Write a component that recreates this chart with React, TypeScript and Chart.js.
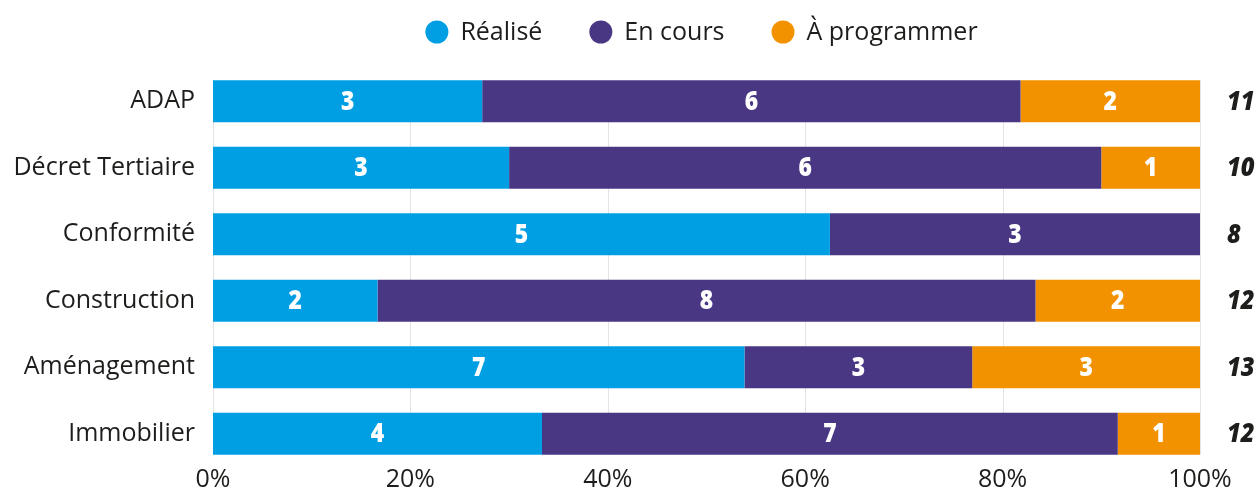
import React, { useEffect, useRef } from "react";
import { Chart, registerables } from "chart.js";

Chart.register(...registerables);

const categories = ["ADAP", "Décret Tertiaire", "Conformité", "Construction", "Aménagement", "Immobilier"];
const realise = [3, 3, 5, 2, 7, 4];
const enCours = [6, 6, 3, 8, 3, 7];
const aProgrammer = [2, 1, 0, 2, 3, 1];
const seriesNames = ["Réalisé", "En cours", "À programmer"];
const seriesColors = ["#009FE3", "#4A3784", "#F39200"];
const xTickValues = [0, 20, 40, 60, 80, 100];

const TEXT = "#1d1d1b";
const FONT = '"Open Sans", sans-serif';
const LABEL_FONT = '"Open Sans", sans-serif';

const totals = categories.map((_, i) => realise[i] + enCours[i] + aProgrammer[i]);
const pct = (arr: number[]) => arr.map((v, i) => (v / totals[i]) * 100);

const gridPlugin = {
  id: "customGrid",
  beforeDatasetsDraw(chart: any) {
    const { ctx, scales } = chart;
    const meta0 = chart.getDatasetMeta(0);
    const first = meta0.data[0];
    const last = meta0.data[meta0.data.length - 1];
    const top = first.y - first.height / 2;
    const bottom = last.y + last.height / 2;
    ctx.save();
    ctx.strokeStyle = "#e3e3e3";
    ctx.lineWidth = 1;
    xTickValues.forEach((v) => {
      const x = Math.round(scales.x.getPixelForValue(v)) + 0.5;
      ctx.beginPath();
      ctx.moveTo(x, top);
      ctx.lineTo(x, bottom);
      ctx.stroke();
    });
    ctx.restore();
  },
};

function condensedText(ctx: any, text: string, x: number, y: number, sx: number) {
  ctx.save();
  ctx.translate(x, y);
  ctx.scale(sx, 1);
  ctx.fillText(text, 0, 0);
  ctx.restore();
}

const labelsPlugin = {
  id: "valueLabels",
  afterDatasetsDraw(chart: any) {
    const { ctx, chartArea } = chart;
    ctx.save();
    ctx.textAlign = "center";
    ctx.textBaseline = "middle";
    ctx.fillStyle = "#ffffff";
    ctx.font = `800 26px ${LABEL_FONT}`;
    chart.data.datasets.forEach((ds: any, di: number) => {
      const meta = chart.getDatasetMeta(di);
      meta.data.forEach((el: any, i: number) => {
        const raw = ds.raw[i];
        if (!raw) return;
        const c = el.getCenterPoint();
        condensedText(ctx, String(raw), c.x, c.y + 1, 0.88);
      });
    });
    // totals
    ctx.fillStyle = TEXT;
    ctx.textAlign = "left";
    ctx.font = `italic 800 27px ${LABEL_FONT}`;
    const meta0 = chart.getDatasetMeta(0);
    meta0.data.forEach((el: any, i: number) => {
      condensedText(ctx, String(totals[i]), chartArea.right + 27, el.y + 1, 0.88);
    });
    ctx.restore();
  },
};

const legendPlugin = {
  id: "customLegend",
  afterDraw(chart: any) {
    const { ctx, chartArea } = chart;
    ctx.save();
    ctx.font = `25px ${FONT}`;
    const r = 11.5;
    const gapText = 12;
    const gapItem = 47;
    const widths = seriesNames.map((n) => ctx.measureText(n).width);
    const total =
      widths.reduce((a, w) => a + 2 * r + gapText + w, 0) + gapItem * (seriesNames.length - 1);
    let x = (chartArea.left + chartArea.right) / 2 - 5 - total / 2;
    const y = 32;
    ctx.textBaseline = "middle";
    ctx.textAlign = "left";
    seriesNames.forEach((n, i) => {
      ctx.fillStyle = seriesColors[i];
      ctx.beginPath();
      ctx.arc(x + r, y, r, 0, Math.PI * 2);
      ctx.fill();
      ctx.fillStyle = TEXT;
      ctx.fillText(n, x + 2 * r + gapText, y + 1);
      x += 2 * r + gapText + widths[i] + gapItem;
    });
    ctx.restore();
  },
};

export default function App() {
  const ref = useRef<HTMLCanvasElement>(null);
  useEffect(() => {
    if (!ref.current) return;
    const chart = new Chart(ref.current, {
      type: "bar",
      data: {
        labels: categories,
        datasets: [realise, enCours, aProgrammer].map((arr, i) => ({
          label: seriesNames[i],
          data: pct(arr),
          raw: arr,
          backgroundColor: seriesColors[i],
          borderWidth: 0,
          categoryPercentage: 1,
          barPercentage: 0.63,
        })) as any,
      },
      options: {
        indexAxis: "y",
        animation: false,
        responsive: true,
        maintainAspectRatio: false,
        layout: { padding: { top: 68, right: 58, left: 0, bottom: 0 } },
        plugins: {
          legend: { display: false },
          tooltip: { enabled: false },
        },
        scales: {
          x: {
            type: "linear",
            stacked: true,
            min: 0,
            max: 100,
            grid: { display: false, drawTicks: false },
            border: { display: false },
            ticks: {
              stepSize: 20,
              padding: -2,
              color: TEXT,
              font: { family: FONT, size: 25 },
              callback: (v: any) => `${v}%`,
            },
            afterFit: (scale: any) => {
              scale.height = 22;
              scale.paddingLeft = 0;
              scale.paddingRight = 0;
            },
          },
          y: {
            stacked: true,
            grid: { display: false, drawTicks: false },
            border: { display: false },
            ticks: {
              padding: 18,
              color: TEXT,
              font: { family: FONT, size: 25 },
            },
            afterFit: (scale: any) => {
              scale.width = 213;
              scale.paddingTop = 0;
              scale.paddingBottom = 0;
            },
          },
        },
      },
      plugins: [gridPlugin, labelsPlugin, legendPlugin],
    });
    return () => chart.destroy();
  }, []);
  return (
    <div style={{ position: "fixed", left: 0, top: 0, width: "100vw", height: "100vh" }}>
      <canvas ref={ref} />
    </div>
  );
}
